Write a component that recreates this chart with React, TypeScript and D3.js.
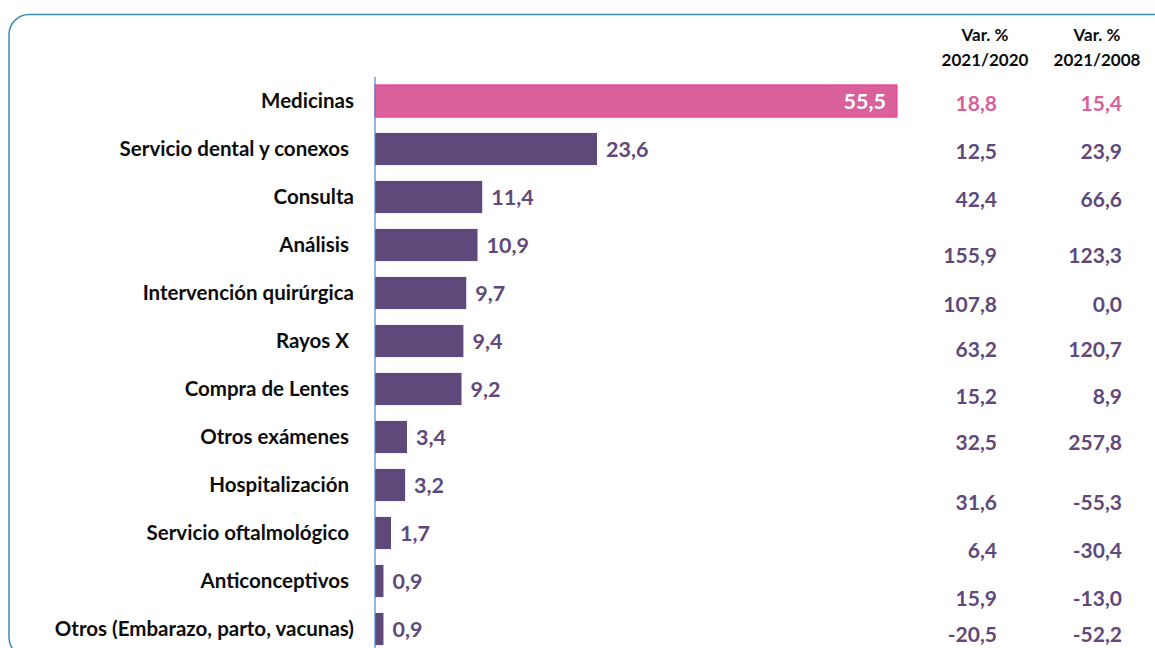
import React from "react";
import * as d3 from "d3";

const categories = [
  "Medicinas",
  "Servicio dental y conexos ",
  "Consulta",
  "Análisis ",
  "Intervención quirúrgica",
  "Rayos X ",
  "Compra de Lentes ",
  "Otros exámenes ",
  "Hospitalización ",
  "Servicio oftalmológico ",
  "Anticonceptivos ",
  "Otros (Embarazo, parto, vacunas)",
];
const shares = [55.5, 23.6, 11.4, 10.9, 9.7, 9.4, 9.2, 3.4, 3.2, 1.7, 0.9, 0.9];
const var2020 = [18.8, 12.5, 42.4, 155.9, 107.8, 63.2, 15.2, 32.5, 31.6, 6.4, 15.9, -20.5];
const var2008 = [15.4, 23.9, 66.6, 123.3, 0.0, 120.7, 8.9, 257.8, -55.3, -30.4, -13.0, -52.2];
const headers = [
  ["Var. %", "2021/2020"],
  ["Var. %", "2021/2008"],
];

// layout only: vertical shift of table cells relative to the bar rows
const tableShift = [3, 3, 3, 11, 12, 9, 8, 6, 18, 18, 18, 6];

const W = 1155;
const H = 648;
const FONT = "Lato, 'Open Sans', sans-serif";
const PURPLE = "#5f497a";
const PINK = "#d9609a";
const PINK_STROKE = "#f0449a";
const BLACK = "#0d0d0d";

const fmt = (v: number) => d3.format(".1f")(v).replace(".", ",").replace("−", "-");

export default function App() {
  const y = d3.scaleBand<string>().domain(categories).range([77, 653]).paddingInner(0.33).paddingOuter(0.165);
  const x = d3.scaleLinear().domain([0, 55.5]).range([375, 897]);
  const colX = [997, 1122];
  const headX = [985, 1097];
  const cols = [var2020, var2008];

  return (
    <svg
      width={W}
      height={H}
      style={{ position: "absolute", left: 0, top: 0, background: "#fff" }}
      fontFamily={FONT}
    >
      <rect x={9} y={14.5} width={1200} height={643} rx={20} ry={20} fill="#fff" stroke="#3b8db3" strokeWidth={1.5} />

      {headers.map((h, i) => (
        <g key={"h" + i} fontWeight={700} fontSize={17} fill={BLACK} textAnchor="middle">
          <text x={headX[i]} y={41}>{h[0]}</text>
          <text x={headX[i]} y={66}>{h[1]}</text>
        </g>
      ))}

      {categories.map((c, i) => {
        const yc = (y(c) as number) + y.bandwidth() / 2;
        const first = i === 0;
        return (
          <g key={c}>
            <text
              x={354}
              y={yc}
              dy="0.35em"
              textAnchor="end"
              fontWeight={700}
              fontSize={20.5}
              fill={BLACK}
              style={{ whiteSpace: "pre" }}
              xmlSpace="preserve"
            >
              {c}
            </text>
            <rect
              x={x(0)}
              y={y(c)}
              width={x(shares[i]) - x(0)}
              height={y.bandwidth()}
              fill={first ? PINK : PURPLE}
              stroke={first ? PINK_STROKE : "none"}
              strokeWidth={first ? 1.2 : 0}
            />
            <text
              x={first ? x(shares[i]) - 11 : x(shares[i]) + 9}
              y={yc}
              dy="0.35em"
              textAnchor={first ? "end" : "start"}
              fontWeight={700}
              fontSize={21.5}
              fill={first ? "#ffffff" : PURPLE}
            >
              {fmt(shares[i])}
            </text>
            {cols.map((col, k) => (
              <text
                key={k}
                x={colX[k]}
                y={yc + tableShift[i]}
                dy="0.35em"
                textAnchor="end"
                fontWeight={700}
                fontSize={21}
                fill={first ? PINK : PURPLE}
              >
                {fmt(col[i])}
              </text>
            ))}
          </g>
        );
      })}

      <line x1={375} x2={375} y1={77} y2={H} stroke="#4a86d4" strokeWidth={1.2} />
    </svg>
  );
}
